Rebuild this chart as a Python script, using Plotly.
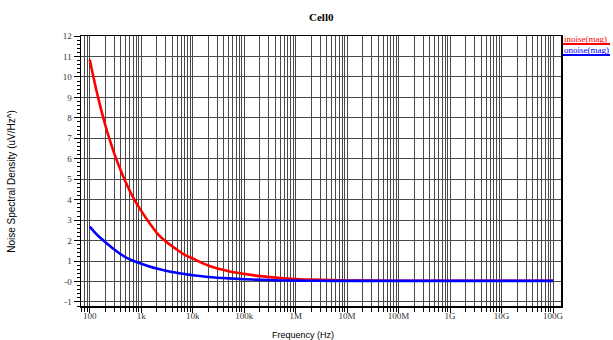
import plotly.graph_objects as go

# ---- data ----
freq_hz = [100, 120, 150, 200, 250, 300, 400, 500, 700, 1e3, 1.5e3, 2e3, 3e3, 5e3, 7e3,
           1e4, 2e4, 5e4, 1e5, 2e5, 5e5, 1e6, 2e6, 5e6, 1e7, 3e7, 1e8, 1e9, 1e10, 1e11]
inoise_mag = [10.85, 9.9, 8.85, 7.65, 6.85, 6.25, 5.42, 4.85, 4.1, 3.45, 2.8, 2.38, 1.95, 1.55, 1.3,
              1.12, 0.78, 0.5, 0.37, 0.26, 0.17, 0.12, 0.09, 0.065, 0.05, 0.04, 0.035, 0.035, 0.035, 0.035]
onoise_mag = [2.68, 2.45, 2.2, 1.93, 1.72, 1.56, 1.33, 1.18, 1.01, 0.87, 0.72, 0.63, 0.52, 0.42, 0.36,
              0.3, 0.22, 0.15, 0.11, 0.08, 0.05, 0.04, 0.035, 0.03, 0.03, 0.03, 0.03, 0.03, 0.03, 0.03]

x_tick_vals = [1e2, 1e3, 1e4, 1e5, 1e6, 1e7, 1e8, 1e9, 1e10, 1e11]
x_tick_text = ["100", "1k", "10k", "100k", "1M", "10M", "100M", "1G", "10G", "100G"]
y_tick_vals = [12, 11, 10, 9, 8, 7, 6, 5, 4, 3, 2, 1, 0, -1]
y_tick_text = ["12", "11", "10", "9", "8", "7", "6", "5", "4", "3", "2", "1", "-0", "-1"]

series_names = ["inoise(mag)", "onoise(mag)"]
series_colors = ["#ff0000", "#0000ff"]

# minor tick positions (2..9 per decade)
minor_vals = []
for e in range(1, 12):
    for m in range(2, 10):
        minor_vals.append(m * 10 ** e)

SERIF = "Liberation Serif"
SANS = "Liberation Sans"
GRID = "#4a4a4a"

fig = go.Figure()
for name, ys, col in zip(series_names, [inoise_mag, onoise_mag], series_colors):
    fig.add_trace(go.Scatter(x=freq_hz, y=ys, mode="lines", name=name,
                             line=dict(color=col, width=2.6, shape="spline", smoothing=0.8)))

fig.update_layout(
    width=613, height=340,
    margin=dict(l=81, r=52, t=36, b=34),
    paper_bgcolor="white", plot_bgcolor="white",
    showlegend=False,
    font=dict(family=SERIF, size=9, color="#333"),
)

fig.update_xaxes(
    type="log", range=[1.83, 11.155],
    tickmode="array", tickvals=x_tick_vals, ticktext=x_tick_text,
    ticks="outside", ticklen=5, tickcolor="black", tickwidth=1,
    ticklabelstandoff=-4,
    showgrid=True, gridcolor=GRID, gridwidth=1,
    showline=True, linecolor="black", linewidth=1.5, mirror=True,
    zeroline=False,
    tickfont=dict(family=SERIF, size=9, color="#333"),
    minor=dict(tickmode="array", tickvals=minor_vals, ticks="outside", ticklen=4,
               tickcolor="black", showgrid=True, gridcolor=GRID, gridwidth=1),
)
fig.update_yaxes(
    range=[-1.2, 12],
    tickmode="array", tickvals=y_tick_vals, ticktext=y_tick_text,
    ticks="outside", ticklen=6, tickcolor="black", tickwidth=1,
    showgrid=True, gridcolor=GRID, gridwidth=1,
    showline=True, linecolor="black", linewidth=1.5, mirror=True,
    zeroline=False,
    tickfont=dict(family=SERIF, size=9, color="#333"),
    minor=dict(dtick=0.2, tick0=0, ticks="outside", ticklen=3, tickcolor="black", showgrid=False),
)

# title
fig.add_annotation(text="<b>Cell0</b>", xref="paper", yref="paper", x=0.5, y=1,
                   xanchor="center", yanchor="bottom", yshift=11, showarrow=False,
                   font=dict(family=SERIF, size=11, color="black"))
# axis titles
fig.add_annotation(text="Frequency (Hz)", xref="paper", yref="paper", x=0.462, y=0,
                   xanchor="center", yanchor="top", yshift=-22, showarrow=False,
                   font=dict(family=SANS, size=9, color="black"))
fig.add_annotation(text="Noise Spectral Density (uV/Hz^)", xref="paper", yref="paper",
                   x=0, y=0.46, xanchor="center", yanchor="middle", xshift=-69,
                   textangle=-90, showarrow=False,
                   font=dict(family=SANS, size=10, color="black"))

# legend (text with coloured underline)
for i, (name, col) in enumerate(zip(series_names, series_colors)):
    ytxt = 1 - (3 + 11 * i) / 270
    fig.add_annotation(text=name, xref="paper", yref="paper", x=1, y=ytxt,
                       xanchor="left", yanchor="middle", xshift=1, showarrow=False,
                       font=dict(family=SERIF, size=9, color=col))
    yl = 1 - (8 + 11 * i) / 270
    fig.add_shape(type="line", xref="paper", yref="paper", x0=1.004, x1=1.102,
                  y0=yl, y1=yl, line=dict(color=col, width=2))

fig.write_html("out.html",
               config={"displayModeBar": False, "staticPlot": True},
               post_script="document.body.style.margin='0';document.body.style.overflow='hidden';")
